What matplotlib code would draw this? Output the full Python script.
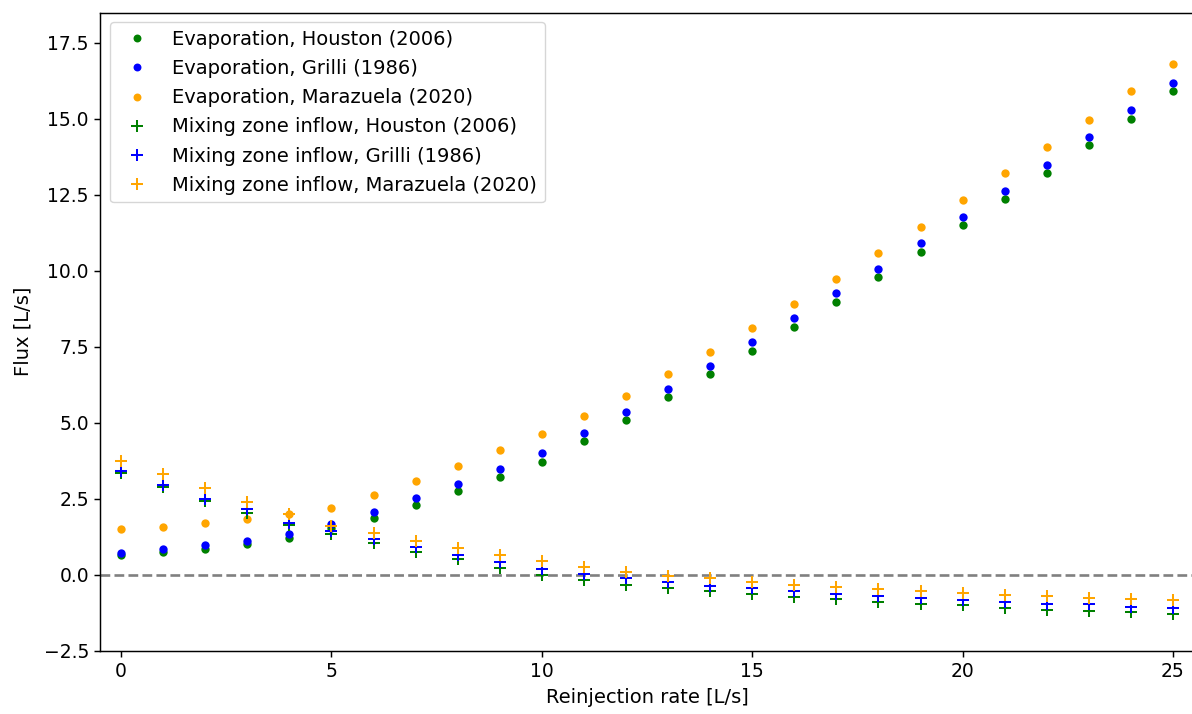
import numpy as np
import matplotlib
matplotlib.use("Agg")
import matplotlib.pyplot as plt

plt.rcParams['font.family'] = ['DejaVu Sans']
plt.rcParams['font.size'] = 14
plt.rcParams['xtick.labelsize'] = 13.5
plt.rcParams['ytick.labelsize'] = 13.5
plt.rcParams['axes.linewidth'] = 1.05
plt.rcParams['xtick.major.width'] = 1.05
plt.rcParams['ytick.major.width'] = 1.05
plt.rcParams['xtick.major.size'] = 4.5
plt.rcParams['ytick.major.size'] = 4.5

rate = np.arange(0, 26)

# evaporation
evap_houston = [0.66, 0.76, 0.87, 1.02, 1.21, 1.54, 1.88, 2.29, 2.76, 3.22, 3.73, 4.41, 5.10,
                5.86, 6.61, 7.38, 8.17, 8.98, 9.79, 10.64, 11.50, 12.36, 13.24, 14.13, 15.01, 15.91]
evap_grilli = [0.73, 0.84, 0.98, 1.13, 1.36, 1.68, 2.08, 2.53, 2.99, 3.49, 4.01, 4.66, 5.36,
               6.11, 6.88, 7.66, 8.45, 9.27, 10.08, 10.91, 11.78, 12.64, 13.50, 14.40, 15.29, 16.19]
evap_marazuela = [1.50, 1.59, 1.72, 1.83, 2.00, 2.19, 2.62, 3.09, 3.57, 4.11, 4.64, 5.23, 5.90,
                  6.62, 7.34, 8.13, 8.91, 9.75, 10.59, 11.45, 12.33, 13.21, 14.09, 14.97, 15.91, 16.82]

# mixing zone inflow
mix_houston = [3.37, 2.91, 2.43, 2.05, 1.64, 1.35, 1.04, 0.77, 0.52, 0.22, -0.01, -0.16, -0.32,
               -0.43, -0.53, -0.61, -0.73, -0.79, -0.88, -0.94, -1.00, -1.07, -1.15, -1.17, -1.23, -1.28]
mix_grilli = [3.42, 2.96, 2.51, 2.16, 1.72, 1.44, 1.17, 0.91, 0.67, 0.44, 0.21, 0.03, -0.10,
              -0.22, -0.35, -0.42, -0.52, -0.61, -0.69, -0.77, -0.82, -0.88, -0.94, -0.97, -1.04, -1.10]
mix_marazuela = [3.76, 3.31, 2.85, 2.41, 2.00, 1.61, 1.37, 1.12, 0.88, 0.66, 0.46, 0.27, 0.11,
                 -0.03, -0.11, -0.22, -0.34, -0.41, -0.47, -0.54, -0.59, -0.65, -0.69, -0.75, -0.80, -0.82]

fig = plt.figure(figsize=(11.92, 7.14), dpi=100)
ax = fig.add_axes([100/1192, 63/714, 1094/1192, 638.4/714])

ax.axhline(0, color="gray", linestyle="--", lw=1.9, zorder=1)

ms_dot = 6.0
ms_plus = 8.5
mew_plus = 1.45
ax.plot(rate, evap_houston, "o", color="green", ms=ms_dot, mew=0, label="Evaporation, Houston (2006)")
ax.plot(rate, evap_grilli, "o", color="blue", ms=ms_dot, mew=0, label="Evaporation, Grilli (1986)")
ax.plot(rate, evap_marazuela, "o", color="orange", ms=ms_dot, mew=0, label="Evaporation, Marazuela (2020)")
ax.plot(rate, mix_houston, "+", color="green", ms=ms_plus, mew=mew_plus, label="Mixing zone inflow, Houston (2006)")
ax.plot(rate, mix_grilli, "+", color="blue", ms=ms_plus, mew=mew_plus, label="Mixing zone inflow, Grilli (1986)")
ax.plot(rate, mix_marazuela, "+", color="orange", ms=ms_plus, mew=mew_plus, label="Mixing zone inflow, Marazuela (2020)")

ax.set_xlim(-0.5, 25.5)
ax.set_ylim(-2.5, 18.5)
ax.set_xticks([0, 5, 10, 15, 20, 25])
ax.set_yticks(np.arange(-2.5, 18, 2.5))
ax.set_xlabel("Reinjection rate [L/s]", labelpad=5)
ax.set_ylabel("Flux [L/s]", labelpad=8)
ax.legend(loc="upper left", fontsize=14, labelspacing=0.52, borderaxespad=0.5,
          markerscale=0.95)

fig.savefig("out.png", dpi=100)
